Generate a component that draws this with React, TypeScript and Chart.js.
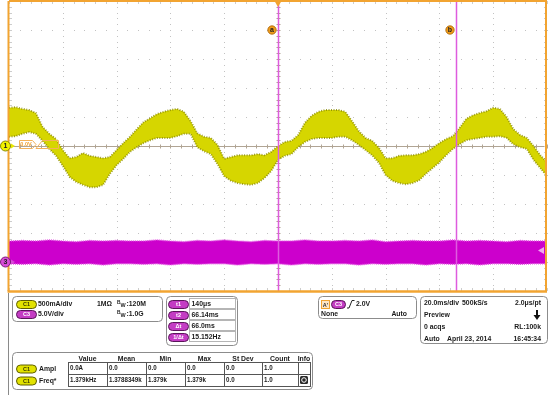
import React, { useEffect, useRef } from 'react';
import { Chart, registerables } from 'chart.js';

Chart.register(...registerables);

// ---------- data (time in ms relative to trigger) ----------
const ch1Time = [-100, -97.5, -95, -92.5, -90, -87.5, -85, -82.5, -80, -77.5, -75, -72.5, -70, -67.5, -65, -62.5, -60, -57.5, -55, -52.5, -50, -47.5, -45, -42.5, -40, -37.5, -35, -32.5, -30, -27.5, -25, -22.5, -20, -17.5, -15, -12.5, -10, -7.5, -5, -2.5, 0, 2.5, 5, 7.5, 10, 12.5, 15, 17.5, 20, 22.5, 25, 27.5, 30, 32.5, 35, 37.5, 40, 42.5, 45, 47.5, 50, 52.5, 55, 57.5, 60, 62.5, 65, 67.5, 70, 72.5, 75, 77.5, 80, 82.5, 85, 87.5, 90, 92.5, 95, 97.5, 100];

// Ch1 current envelope (A), upper and lower edge of the displayed band
const ch1Upper = [0.66, 0.67, 0.64, 0.62, 0.57, 0.33, 0.21, 0.12, -0.07, -0.21,
  -0.19, -0.12, -0.17, -0.19, -0.21, -0.19, -0.07, 0.05, 0.16, 0.29,
  0.41, 0.48, 0.55, 0.59, 0.62, 0.64, 0.59, 0.43, 0.22, 0.16,
  0.14, 0.02, -0.22, -0.19, -0.16, -0.16, -0.16, -0.14, -0.16, -0.10,
  0, 0.07, 0.09, 0.19, 0.40, 0.52, 0.59, 0.62, 0.62, 0.62,
  0.59, 0.43, 0.26, 0.14, 0.09, -0.03, -0.21, -0.21, -0.17, -0.16,
  -0.16, -0.14, -0.10, -0.03, 0.05, 0.12, 0.17, 0.31, 0.47, 0.53,
  0.57, 0.60, 0.66, 0.64, 0.50, 0.29, 0.19, 0.14, 0, -0.16,
  -0.28];
const ch1Lower = [0.16, 0.17, 0.21, 0.24, 0.21, 0.09, -0.05, -0.17, -0.34, -0.53,
  -0.62, -0.67, -0.71, -0.71, -0.67, -0.48, -0.33, -0.22, -0.10, -0.02,
  0.05, 0.10, 0.14, 0.14, 0.14, 0.17, 0.21, 0.21, -0.02, -0.09,
  -0.14, -0.31, -0.52, -0.60, -0.64, -0.66, -0.67, -0.64, -0.55, -0.43,
  -0.24, -0.17, -0.14, -0.02, 0.07, 0.12, 0.14, 0.14, 0.14, 0.16,
  0.16, 0.10, 0.02, -0.07, -0.16, -0.29, -0.50, -0.60, -0.64, -0.66,
  -0.64, -0.59, -0.48, -0.38, -0.28, -0.16, -0.05, 0.03, 0.10, 0.12,
  0.14, 0.16, 0.16, 0.17, 0.14, 0.03, -0.02, -0.05, -0.24, -0.38,
  -0.52];

const ch3Time = [-100, -95, -90, -85, -80, -75, -70, -65, -60, -55, -50, -45, -40, -35, -30, -25, -20, -15, -10, -5, 0, 5, 10, 15, 20, 25, 30, 35, 40, 45, 50, 55, 60, 65, 70, 75, 80, 85, 90, 95, 100];
// Ch3 voltage envelope (V)
const ch3Upper = [3.6, 3.7, 3.6, 3.8, 3.6, 3.5, 3.7, 3.6, 3.7, 3.6, 3.6, 3.8, 3.6, 3.5, 3.7, 3.6, 3.8, 3.6, 3.5, 3.7, 3.6, 3.6, 3.8, 3.6, 3.6, 3.7, 3.6, 3.8, 3.5, 3.6, 3.7, 3.6, 3.6, 3.8, 3.6, 3.7, 3.6, 3.5, 3.7, 3.6, 3.6];
const ch3Lower = [-0.3, -0.4, -0.3, -0.5, -0.3, -0.4, -0.3, -0.5, -0.3, -0.3, -0.4, -0.3, -0.5, -0.3, -0.4, -0.3, -0.3, -0.5, -0.3, -0.4, -0.3, -0.5, -0.3, -0.4, -0.3, -0.3, -0.5, -0.3, -0.4, -0.3, -0.3, -0.5, -0.3, -0.4, -0.3, -0.5, -0.3, -0.3, -0.4, -0.3, -0.3];

const cursorTimes = [0.14, 66.14];
const cursorLabels = ['a', 'b'];
const ch3TriggerLevel = 2.0;

const chRows = [
  { ch: 'C1', scale: '500mA/div', term: '1MΩ', bw: '120M' },
  { ch: 'C3', scale: '5.0V/div', term: '', bw: '1.0G' },
];
const cursorRows = [
  ['t1', '140μs'],
  ['t2', '66.14ms'],
  ['Δt', '66.0ms'],
  ['1/Δt', '15.152Hz'],
];
const acqTimebase = ['20.0ms/div', '500kS/s', '2.0μs/pt'];
const acqRows = [
  ['Preview', ''],
  ['0 acqs', 'RL:100k'],
  ['Auto', '16:45:34'],
];
const acqDate = 'April 23, 2014';
const measHeaders = ['Value', 'Mean', 'Min', 'Max', 'St Dev', 'Count', 'Info'];
const measRows = [
  ['Ampl', '0.0A', '0.0', '0.0', '0.0', '0.0', '1.0'],
  ['Freq*', '1.379kHz', '1.3788349k', '1.379k', '1.379k', '0.0', '1.0'],
];

// ---------- style ----------
const FONT = "'Liberation Sans', Arial, sans-serif";
const TXT = '#1a1a1a';
const ORANGE = '#f2a431';
const X_MIN = -100, X_MAX = 100, X_DIV = 20;
const Y_MIN = -2.5, Y_MAX = 2.5, Y_DIV = 0.5;

function rr(ctx: any, x: number, y: number, w: number, h: number, r: number) {
  ctx.beginPath();
  ctx.roundRect(x, y, w, h, r);
}
function txt(ctx: any, s: string, x: number, cy: number, align = 'left', size = 7.8, color = TXT, sx = 0.88) {
  ctx.save();
  ctx.translate(x, cy);
  ctx.scale(sx, 1);
  ctx.font = `bold ${size}px ${FONT}`;
  ctx.fillStyle = color;
  ctx.textAlign = align;
  ctx.textBaseline = 'middle';
  ctx.fillText(s, 0, 0);
  ctx.restore();
}
function pill(ctx: any, x: number, cy: number, w: number, label: string, yellow: boolean) {
  const h = 8;
  rr(ctx, x + 0.5, cy - h / 2 + 0.5, w, h, h / 2);
  ctx.fillStyle = yellow ? '#e2e200' : '#c43cc4';
  ctx.fill();
  ctx.strokeStyle = yellow ? '#5e5e00' : '#5a155a';
  ctx.lineWidth = 1;
  ctx.stroke();
  txt(ctx, label, x + w / 2 + 0.5, cy + 0.8, 'center', 5.5, yellow ? '#3a3a00' : '#ffffff', 1);
}

const graticule = {
  id: 'graticule',
  beforeDatasetsDraw(chart: any) {
    const { ctx, chartArea: a } = chart;
    const xs = chart.scales.x, ys = chart.scales.y;
    const nx = Math.round((X_MAX - X_MIN) / X_DIV);
    const ny = Math.round((Y_MAX - Y_MIN) / Y_DIV);
    ctx.save();
    ctx.fillStyle = '#c2c2c2';
    for (let i = 1; i < nx; i++) {
      if (i * 2 === nx) continue;
      const px = Math.round(xs.getPixelForValue(X_MIN + i * X_DIV));
      for (let j = 0; j <= ny * 5; j++) {
        const py = Math.round(ys.getPixelForValue(Y_MIN + (j * Y_DIV) / 5));
        ctx.fillRect(px, py, 1, 1);
      }
    }
    for (let j = 1; j < ny; j++) {
      if (j * 2 === ny) continue;
      const py = Math.round(ys.getPixelForValue(Y_MIN + j * Y_DIV));
      for (let i = 0; i <= nx * 5; i++) {
        const px = Math.round(xs.getPixelForValue(X_MIN + (i * X_DIV) / 5));
        ctx.fillRect(px, py, 1, 1);
      }
    }
    // center crosshair
    const cx = Math.round(xs.getPixelForValue(0)) + 0.5;
    const cy = Math.round(ys.getPixelForValue(0)) + 0.5;
    ctx.strokeStyle = '#b0a494';
    ctx.lineWidth = 1;
    ctx.beginPath();
    ctx.moveTo(a.left, cy); ctx.lineTo(a.right, cy);
    ctx.moveTo(cx, a.top); ctx.lineTo(cx, a.bottom);
    for (let i = 0; i <= nx * 5; i++) {
      const px = Math.round(xs.getPixelForValue(X_MIN + (i * X_DIV) / 5)) + 0.5;
      ctx.moveTo(px, cy - 2); ctx.lineTo(px, cy + 2);
    }
    for (let j = 0; j <= ny * 5; j++) {
      const py = Math.round(ys.getPixelForValue(Y_MIN + (j * Y_DIV) / 5)) + 0.5;
      ctx.moveTo(cx - 2, py); ctx.lineTo(cx + 2, py);
    }
    ctx.stroke();
    // edge ticks
    ctx.strokeStyle = '#cdcdcd';
    ctx.beginPath();
    for (let i = 0; i <= nx * 5; i++) {
      const px = Math.round(xs.getPixelForValue(X_MIN + (i * X_DIV) / 5)) + 0.5;
      ctx.moveTo(px, a.top); ctx.lineTo(px, a.top + 3);
      ctx.moveTo(px, a.bottom - 3); ctx.lineTo(px, a.bottom);
    }
    for (let j = 0; j <= ny * 5; j++) {
      const py = Math.round(ys.getPixelForValue(Y_MIN + (j * Y_DIV) / 5)) + 0.5;
      ctx.moveTo(a.left, py); ctx.lineTo(a.left + 3, py);
      ctx.moveTo(a.right - 3, py); ctx.lineTo(a.right, py);
    }
    ctx.stroke();
    ctx.restore();
  },
};

const overlay = {
  id: 'overlay',
  afterDatasetsDraw(chart: any) {
    const { ctx, chartArea: a } = chart;
    const xs = chart.scales.x, ys = chart.scales.y, y3 = chart.scales.y3;
    ctx.save();
    // cursors
    cursorTimes.forEach((t, i) => {
      const px = Math.round(xs.getPixelForValue(t)) + 0.5;
      ctx.strokeStyle = 'rgb(222,92,222)';
      ctx.lineWidth = 1.5;
      ctx.beginPath(); ctx.moveTo(px, a.top); ctx.lineTo(px, a.bottom); ctx.stroke();
      const my = ys.getPixelForValue(2.0);
      ctx.beginPath(); ctx.arc(px - 6.5, my, 4.2, 0, Math.PI * 2);
      ctx.fillStyle = '#ef9d1c'; ctx.fill();
      ctx.strokeStyle = '#a86000'; ctx.lineWidth = 0.8; ctx.stroke();
      txt(ctx, cursorLabels[i], px - 6.5, my + 0.3, 'center', 7, '#222', 1);
    });
    // frame
    ctx.strokeStyle = ORANGE;
    ctx.lineWidth = 2;
    ctx.beginPath();
    ctx.moveTo(a.left - 0.5, a.top); ctx.lineTo(a.left - 0.5, a.bottom);
    ctx.moveTo(a.right - 1, a.top); ctx.lineTo(a.right - 1, a.bottom);
    ctx.moveTo(a.left, a.top); ctx.lineTo(a.right, a.top);
    ctx.stroke();
    ctx.lineWidth = 2.5;
    ctx.beginPath(); ctx.moveTo(a.left - 1.5, a.bottom + 0.5); ctx.lineTo(a.right, a.bottom + 0.5); ctx.stroke();
    // trigger position marker
    const tx = xs.getPixelForValue(0);
    ctx.fillStyle = ORANGE;
    ctx.beginPath(); ctx.moveTo(tx - 3.5, a.top); ctx.lineTo(tx + 3.5, a.top); ctx.lineTo(tx, a.top + 6); ctx.closePath(); ctx.fill();
    // ch3 trigger level arrow
    const tly = y3.getPixelForValue(ch3TriggerLevel);
    ctx.fillStyle = '#f0a8f0';
    ctx.beginPath(); ctx.moveTo(a.right - 9, tly); ctx.lineTo(a.right - 3, tly - 3.5); ctx.lineTo(a.right - 3, tly + 3.5); ctx.closePath(); ctx.fill();
    // trigger level tags near ch1 ground
    const g1 = ys.getPixelForValue(0);
    ctx.strokeStyle = '#f3b25a'; ctx.lineWidth = 1;
    ctx.beginPath();
    ctx.moveTo(19.5, g1 - 5.5); ctx.lineTo(32.5, g1 - 5.5); ctx.lineTo(36, g1 - 1.5); ctx.lineTo(32.5, g1 + 2.5); ctx.lineTo(19.5, g1 + 2.5); ctx.closePath();
    ctx.stroke();
    txt(ctx, '0.0V', 26, g1 - 1.3, 'center', 5.5, '#f0a030', 1);
    ctx.beginPath();
    ctx.moveTo(36, g1 + 2.5); ctx.lineTo(42.5, g1 - 5.5); ctx.lineTo(58.5, g1 - 5.5); ctx.lineTo(58.5, g1 + 2.5); ctx.lineTo(36, g1 + 2.5);
    ctx.stroke();
    // channel ground markers
    const drawCh = (y: number, label: string, fill: string, stroke: string, arrow: string) => {
      ctx.fillStyle = arrow;
      ctx.beginPath(); ctx.moveTo(11, y - 2.5); ctx.lineTo(15, y); ctx.lineTo(11, y + 2.5); ctx.closePath(); ctx.fill();
      ctx.beginPath(); ctx.arc(5.5, y, 5, 0, Math.PI * 2);
      ctx.fillStyle = fill; ctx.fill();
      ctx.strokeStyle = stroke; ctx.lineWidth = 1; ctx.stroke();
      txt(ctx, label, 5.5, y + 0.5, 'center', 7, '#222', 1);
    };
    drawCh(ys.getPixelForValue(0), '1', '#f2f200', '#8a8a00', '#e8e800');
    drawCh(y3.getPixelForValue(0), '3', '#d84cd8', '#7a1a7a', '#d84cd8');
    ctx.restore();
  },
};

const panel = {
  id: 'panel',
  afterDraw(chart: any) {
    const ctx = chart.ctx;
    ctx.save();
    ctx.strokeStyle = '#8a8a8a';
    ctx.lineWidth = 1;
    ctx.beginPath(); ctx.moveTo(8.5, 293); ctx.lineTo(8.5, 395); ctx.stroke();
    const box = (x: number, y: number, w: number, h: number) => {
      rr(ctx, x + 0.5, y + 0.5, w, h, 4);
      ctx.fillStyle = '#ffffff'; ctx.fill();
      ctx.strokeStyle = '#8c8c8c'; ctx.lineWidth = 1; ctx.stroke();
    };
    // vertical settings
    box(12, 296, 150, 25);
    chRows.forEach((r, i) => {
      const cy = 304 + i * 10;
      pill(ctx, 16, cy, 20, r.ch, r.ch === 'C1');
      txt(ctx, r.scale, 38, cy);
      if (r.term) txt(ctx, r.term, 97, cy);
      txt(ctx, 'B', 117, cy - 1.5, 'left', 5.5);
      txt(ctx, 'W', 120.5, cy + 1, 'left', 6.2);
      txt(ctx, ':' + r.bw, 126.5, cy);
    });
    // cursor readouts
    box(166, 296, 71, 49);
    cursorRows.forEach((r, i) => {
      const cy = 304 + i * 11;
      pill(ctx, 168, cy, 20, r[0], false);
      ctx.fillStyle = '#ffffff';
      ctx.strokeStyle = '#b5b5b5';
      ctx.lineWidth = 1;
      ctx.fillRect(189.5, cy - 5.5, 46, 10);
      ctx.strokeRect(189.5, cy - 5.5, 46, 10);
      txt(ctx, r[1], 191.5, cy);
    });
    // trigger
    box(318, 296, 98, 22);
    ctx.fillStyle = '#fde6c6';
    ctx.fillRect(321.5, 300.5, 8, 8);
    ctx.strokeStyle = ORANGE; ctx.lineWidth = 1; ctx.strokeRect(321.5, 300.5, 8, 8);
    txt(ctx, "A'", 325.5, 305, 'center', 5.5, '#333', 1);
    pill(ctx, 331, 304, 14, 'C3', false);
    ctx.strokeStyle = '#222'; ctx.lineWidth = 1;
    ctx.beginPath(); ctx.moveTo(347, 308); ctx.lineTo(349, 308); ctx.lineTo(352, 300.5); ctx.lineTo(354.5, 300.5); ctx.stroke();
    txt(ctx, '2.0V', 356, 304);
    txt(ctx, 'None', 321, 314);
    txt(ctx, 'Auto', 407, 314, 'right');
    // acquisition
    box(420, 296, 127, 47);
    txt(ctx, acqTimebase[0], 424, 303);
    txt(ctx, acqTimebase[1], 462, 303);
    txt(ctx, acqTimebase[2], 541, 303, 'right');
    acqRows.forEach((r, i) => {
      const cy = 303 + (i + 1) * 11.8;
      txt(ctx, r[0], 424, cy);
      if (r[1]) txt(ctx, r[1], 541, cy, 'right');
    });
    txt(ctx, acqDate, 447, 303 + 3 * 11.8);
    ctx.fillStyle = '#111';
    ctx.fillRect(536, 310, 2, 6);
    ctx.beginPath(); ctx.moveTo(533.5, 315); ctx.lineTo(540.5, 315); ctx.lineTo(537, 320); ctx.closePath(); ctx.fill();
    // measurements
    box(12, 352, 300, 37);
    const cols = [68, 107, 146, 185, 224, 262, 298, 310];
    measHeaders.forEach((h, i) => txt(ctx, h, (cols[i] + cols[i + 1]) / 2, 359, 'center'));
    measRows.forEach((r, ri) => {
      const top = 362 + ri * 12;
      const cy = top + 6.5;
      pill(ctx, 16, cy, 20, 'C1', true);
      txt(ctx, r[0], 39, cy);
      for (let c = 0; c < 7; c++) {
        ctx.strokeStyle = '#555';
        ctx.lineWidth = 1;
        ctx.strokeRect(cols[c] + 0.5, top + 0.5, cols[c + 1] - cols[c], 12);
        if (c < 6) txt(ctx, r[c + 1], cols[c] + 2, cy, 'left', 7.2, TXT, 0.86);
      }
    });
    rr(ctx, 300, 376, 8, 8, 1.5);
    ctx.fillStyle = '#2a2a2a'; ctx.fill();
    ctx.beginPath(); ctx.arc(304, 380, 2.3, 0, Math.PI * 2);
    ctx.strokeStyle = '#ffffff'; ctx.lineWidth = 1; ctx.stroke();
    ctx.restore();
  },
};

export default function App() {
  const ref = useRef<HTMLCanvasElement>(null);
  useEffect(() => {
    document.body.style.margin = '0';
    const edge1 = 'rgba(135,135,0,0.8)';
    const edge3 = 'rgb(226,80,226)';
    const chart = new Chart(ref.current as HTMLCanvasElement, {
      type: 'line',
      data: {
        datasets: [
          { label: 'C3 low', data: ch3Time.map((t, i) => ({ x: t, y: ch3Lower[i] })), yAxisID: 'y3', borderColor: edge3, borderWidth: 1.5, borderDash: [1, 1], pointRadius: 0, fill: false },
          { label: 'C3 high', data: ch3Time.map((t, i) => ({ x: t, y: ch3Upper[i] })), yAxisID: 'y3', borderColor: edge3, borderWidth: 1.5, borderDash: [1, 1], pointRadius: 0, fill: '-1', backgroundColor: '#cc00cc' },
          { label: 'C1 low', data: ch1Time.map((t, i) => ({ x: t, y: ch1Lower[i] })), yAxisID: 'y', borderColor: edge1, borderWidth: 2, borderDash: [1, 1.5], pointRadius: 0, fill: false },
          { label: 'C1 high', data: ch1Time.map((t, i) => ({ x: t, y: ch1Upper[i] })), yAxisID: 'y', borderColor: edge1, borderWidth: 2, borderDash: [1, 1.5], pointRadius: 0, fill: '-1', backgroundColor: '#d6d600' },
        ],
      },
      options: {
        responsive: false,
        animation: false,
        devicePixelRatio: 1,
        layout: { padding: { left: 9, top: 1, right: 3, bottom: 104 } },
        plugins: { legend: { display: false }, tooltip: { enabled: false } },
        scales: {
          x: { type: 'linear', min: X_MIN, max: X_MAX, display: false },
          y: { type: 'linear', min: Y_MIN, max: Y_MAX, display: false },
          y3: { type: 'linear', min: -5, max: 45, display: false },
        },
        elements: { line: { tension: 0 } },
      },
      plugins: [graticule, overlay, panel],
    } as any);
    return () => chart.destroy();
  }, []);
  return <canvas ref={ref} width={550} height={395} style={{ display: 'block' }} />;
}
